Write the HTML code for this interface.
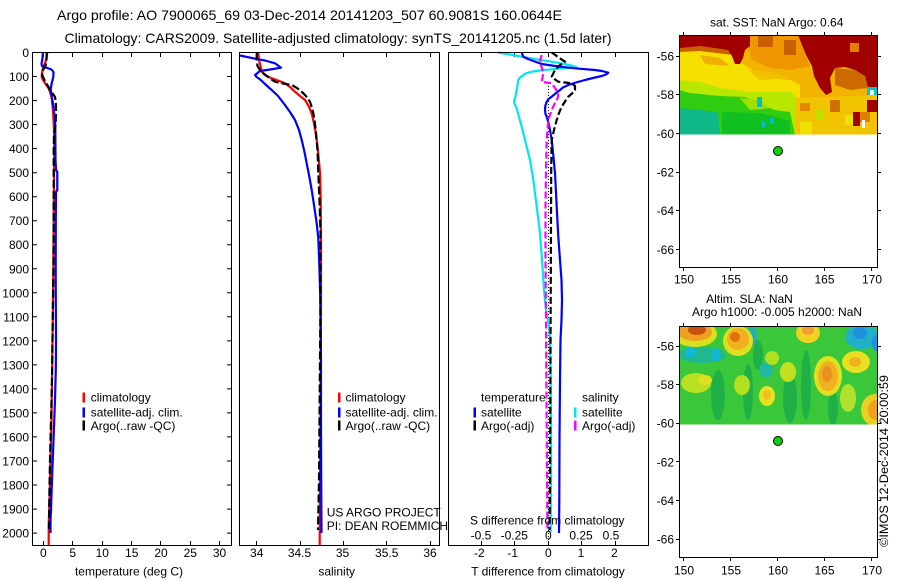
<!DOCTYPE html>
<html>
<head>
<meta charset="utf-8">
<style>
html,body{margin:0;padding:0;background:#fff;}
svg{display:block;}
text{font-family:"Liberation Sans",Arial,sans-serif;fill:#000;}
</style>
</head>
<body>
<svg width="900" height="580" viewBox="0 0 900 580" xmlns="http://www.w3.org/2000/svg">
<rect x="0" y="0" width="900" height="580" fill="#fff"/>

<!-- Titles -->
<text x="57" y="20" font-size="14" textLength="505" lengthAdjust="spacingAndGlyphs">Argo profile: AO 7900065_69 03-Dec-2014 20141203_507 60.9081S 160.0644E</text>
<text x="64.5" y="43" font-size="14" textLength="547" lengthAdjust="spacingAndGlyphs">Climatology: CARS2009. Satellite-adjusted climatology: synTS_20141205.nc (1.5d later)</text>

<!-- Depth labels -->
<g font-size="12" text-anchor="end">
<text x="29" y="57">0</text>
<text x="29" y="81">100</text>
<text x="29" y="105.1">200</text>
<text x="29" y="129.1">300</text>
<text x="29" y="153.1">400</text>
<text x="29" y="177.2">500</text>
<text x="29" y="201.2">600</text>
<text x="29" y="225.2">700</text>
<text x="29" y="249.2">800</text>
<text x="29" y="273.3">900</text>
<text x="29" y="297.3">1000</text>
<text x="29" y="321.3">1100</text>
<text x="29" y="345.4">1200</text>
<text x="29" y="369.4">1300</text>
<text x="29" y="393.4">1400</text>
<text x="29" y="417.4">1500</text>
<text x="29" y="441.4">1600</text>
<text x="29" y="465.5">1700</text>
<text x="29" y="489.5">1800</text>
<text x="29" y="513.6">1900</text>
<text x="29" y="537.6">2000</text>
</g>

<!-- Panel 1 ticks -->
<g stroke="#000" stroke-width="1" fill="none">
<path d="M32.5 52.5h4.5M32.5 76.5h4.5M32.5 100.6h4.5M32.5 124.6h4.5M32.5 148.6h4.5M32.5 172.7h4.5M32.5 196.7h4.5M32.5 220.7h4.5M32.5 244.7h4.5M32.5 268.8h4.5M32.5 292.8h4.5M32.5 316.8h4.5M32.5 340.9h4.5M32.5 364.9h4.5M32.5 388.9h4.5M32.5 412.9h4.5M32.5 436.9h4.5M32.5 461h4.5M32.5 485h4.5M32.5 509.1h4.5M32.5 533.1h4.5"/>
<path d="M231.5 52.5h-4.5M231.5 76.5h-4.5M231.5 100.6h-4.5M231.5 124.6h-4.5M231.5 148.6h-4.5M231.5 172.7h-4.5M231.5 196.7h-4.5M231.5 220.7h-4.5M231.5 244.7h-4.5M231.5 268.8h-4.5M231.5 292.8h-4.5M231.5 316.8h-4.5M231.5 340.9h-4.5M231.5 364.9h-4.5M231.5 388.9h-4.5M231.5 412.9h-4.5M231.5 436.9h-4.5M231.5 461h-4.5M231.5 485h-4.5M231.5 509.1h-4.5M231.5 533.1h-4.5"/>
<path d="M43.5 52.5v4.5M72.5 52.5v4.5M102.5 52.5v4.5M131.5 52.5v4.5M160.5 52.5v4.5M190.5 52.5v4.5M219.5 52.5v4.5"/>
<path d="M43.5 545.5v-4.5M72.5 545.5v-4.5M102.5 545.5v-4.5M131.5 545.5v-4.5M160.5 545.5v-4.5M190.5 545.5v-4.5M219.5 545.5v-4.5"/>
<!-- Panel 2 ticks -->
<path d="M256.5 52.5v4.5M300.5 52.5v4.5M343.5 52.5v4.5M386.5 52.5v4.5M430.5 52.5v4.5"/>
<path d="M256.5 545.5v-4.5M300.5 545.5v-4.5M343.5 545.5v-4.5M386.5 545.5v-4.5M430.5 545.5v-4.5"/>
<!-- Panel 3 ticks -->
<path d="M481.5 52.5v4.5M514.5 52.5v4.5M548.5 52.5v4.5M581.5 52.5v4.5M615.5 52.5v4.5"/>
<path d="M481.5 545.5v-4.5M514.5 545.5v-4.5M548.5 545.5v-4.5M581.5 545.5v-4.5M615.5 545.5v-4.5"/>
</g>

<!-- Panel 1 curves -->
<g fill="none" stroke-width="2.2" stroke-linejoin="round">
<polyline stroke="#ff0000" points="47.3,52.5 46.5,58 45,63 43,68 42,73 41.7,77 43,80 45,83 47,86 49,89 50,92 51.5,97 52,101 53,110 54,130 54.3,150 54,180 53.7,220 53.3,270 53,300 52.5,340 52,380 51.5,420 50.5,460 49.5,500 48.7,525 48.7,545"/>
<polyline stroke="#0000ff" points="43,52.5 42.5,58 41.5,64 42,66 46,67.5 51.5,69.5 53.5,72 53.3,77 52,82 51,87 50.7,90 51.5,95 52.3,100 53.5,106 54,112 55,118 55.3,130 55.5,160 56,170 57.3,172 57.3,190 56,192 55.8,220 55.7,268 55.8,300 56,340 55.8,370 55,400 53.5,440 52,480 51,510 50.5,520 50.5,533"/>
<polyline stroke="#000" stroke-dasharray="8 3" points="46.7,52.5 46.5,60 45.5,66 43,70 42,74 43,77 45.5,82 48,86 50,90 53,94 55,97 55.5,100 56,105 56,115 55.5,125 54,135 53.7,150 53.7,200 53.5,268 53,300 52.5,340 52,380 51,420 50,460 49.3,500 49,530"/>
</g>

<!-- Panel 2 curves -->
<g fill="none" stroke-width="2.2" stroke-linejoin="round">
<polyline stroke="#ff0000" points="258.3,52.5 259,60 260.5,66 261.7,71.7 265,75 271.7,78.3 278,80.5 285,83.3 290,87 295,91.7 300,96 305,100 309,106.7 311.5,113 313.3,120 315.2,130 316.7,140 318.5,156 320,173 320.7,200 321,240 321,300 320.8,360 320.5,420 320,480 319.7,520 319.7,545"/>
<polyline stroke="#0000ff" points="240,55.5 253.3,58.3 265,60.5 275,63.3 281,67.7 270,69.5 260,71 255,75 256.5,77 260,79.3 265,84 271.7,90 278,96 285,105 290,112 295,120 299,130 301.7,140 304.5,152 306.7,163.3 309,175 311.7,190 314,205 316.7,223.3 318.3,238.3 319.5,270 320.3,300 321,360 321,420 321.2,480 321.5,533"/>
<polyline stroke="#000" stroke-dasharray="8 3" points="256.7,52.5 256.7,60 257.5,66 260,70 263.3,73.3 268,77 275,81.7 283,83.5 291.7,85 297,88 301.7,91.7 306,96 310,101.7 312,108 313.3,113 314.8,122 316,133 317.5,150 318.3,173 319.5,200 320.5,233 320.5,300 320,360 319.5,420 319,480 318,530"/>
</g>

<!-- Panel 3 curves -->
<line x1="548.5" y1="86" x2="548.5" y2="545" stroke="#000" stroke-width="1" stroke-dasharray="1 2"/>
<g fill="none" stroke-width="2.2" stroke-linejoin="round">
<polyline stroke="#00e5ee" points="498,52.5 510,54.5 521.7,56.7 533,58.7 545,60.7 555,62.3 565,64 572,65.7 576.7,67.3 565,68.2 551.7,69.3 540,70.5 531.7,71.7 526,73.3 523.3,75 520,77.5 518.3,80 517.5,85 516.7,90 515.5,96 514,101.7 515,105 516.7,108.3 519,117 521.7,126.7 525,140 530,160 533.3,180 536.7,206.7 540,233.3 542,260 544,290 546,310 548,320 549.5,330 550.5,360 551,420 551,480 550.7,532"/>
<polyline stroke="#0000ff" points="521.7,52.5 523.3,56.7 528,59 533.3,61 541.7,64 555,66 565,67.2 575,68.3 585,69.2 595,70 602,71 608.3,72.7 606,74.5 601.7,76 593,78 585,80 576,82.5 568.3,85 563,87.5 560,90 555.5,93.5 551.7,96.7 548.5,99 546.7,101.7 545.3,106 545,110 545.5,114 546.7,116.7 548.5,123 550,130 551.7,140 553.5,157 555,173.3 556.7,206.7 558.3,236.7 560,260 561.5,280 562,300 561.5,320 560.5,340 560,380 559.5,440 559.3,500 559,533"/>
<polyline stroke="#000" stroke-dasharray="7 3" points="551.7,52.5 558,57 565,61.7 560,65 555,70 551.7,76.7 555,79.5 558.3,81.7 565,82.5 571.7,83.3 575,86 575,90 572,93.5 568.3,96.7 565,101.5 561.7,106.7 559,113 556.7,120 554,130 551.7,140 551.2,170 551,220 550.7,300 550.3,400 550,480 549.5,530"/>
<polyline stroke="#ff00ff" stroke-dasharray="7 3" points="541.7,55 540.5,59 540,63.3 542,68 543.3,73.3 542.5,78 541.7,81.7 546,82.5 551.7,83.3 555,88 558.3,93.3 558,97 556.7,100 554,105 551.7,110 550,115 548.3,120 547.5,130 546.7,140 546,170 545.5,206.7 545.5,260 546,320 546.5,400 547,470 547.5,532"/>
</g>

<!-- Panel frames -->
<g fill="none" stroke="#000" stroke-width="1">
<rect x="32.5" y="52.5" width="199" height="493"/>
<rect x="239.5" y="52.5" width="200" height="493"/>
<rect x="448.5" y="52.5" width="200" height="493"/>
</g>

<!-- Legends -->
<g font-size="12">
<rect x="82.5" y="392.5" width="2.5" height="10" fill="#ff0000"/>
<rect x="82.5" y="407.5" width="2.5" height="10" fill="#0000ff"/>
<rect x="82.5" y="420.5" width="2.5" height="10" fill="#000"/>
<text x="90.7" y="401.6">climatology</text>
<text x="90.7" y="416.6">satellite-adj. clim.</text>
<text x="90.7" y="430">Argo(..raw -QC)</text>

<rect x="338" y="392.5" width="2.5" height="10" fill="#ff0000"/>
<rect x="338" y="407.5" width="2.5" height="10" fill="#0000ff"/>
<rect x="338" y="420.5" width="2.5" height="10" fill="#000"/>
<text x="345.5" y="401.6">climatology</text>
<text x="345.5" y="416.6">satellite-adj. clim.</text>
<text x="345.5" y="430">Argo(..raw -QC)</text>

<text x="481" y="401.6">temperature</text>
<rect x="473.5" y="407.5" width="2.5" height="10" fill="#0000ff"/>
<rect x="473.5" y="420.5" width="2.5" height="10" fill="#000"/>
<text x="481" y="416.6">satellite</text>
<text x="481" y="430">Argo(-adj)</text>
<text x="582" y="401.6">salinity</text>
<rect x="574" y="407.5" width="2.5" height="10" fill="#00e5ee"/>
<rect x="574" y="420.5" width="2.5" height="10" fill="#ff00ff"/>
<text x="582" y="416.6">satellite</text>
<text x="582" y="430">Argo(-adj)</text>

<text x="326.7" y="516.6">US ARGO PROJECT</text>
<text x="326.7" y="530">PI: DEAN ROEMMICH</text>

<text x="547.3" y="524.5" text-anchor="middle">S difference from climatology</text>
<g text-anchor="middle">
<text x="481" y="539.5">-0.5</text>
<text x="514.3" y="539.5">-0.25</text>
<text x="548.3" y="539.5">0</text>
<text x="581" y="539.5">0.25</text>
<text x="611" y="539.5">0.5</text>
</g>
</g>

<!-- X tick labels -->
<g font-size="12" text-anchor="middle">
<text x="43.3" y="557">0</text>
<text x="72.7" y="557">5</text>
<text x="102.3" y="557">10</text>
<text x="131.7" y="557">15</text>
<text x="161" y="557">20</text>
<text x="190.3" y="557">25</text>
<text x="219.5" y="557">30</text>
<text x="256.7" y="557">34</text>
<text x="299.5" y="557">34.5</text>
<text x="342.5" y="557">35</text>
<text x="386.7" y="557">35.5</text>
<text x="430" y="557">36</text>
<text x="479.3" y="557">-2</text>
<text x="512.7" y="557">-1</text>
<text x="548.3" y="557">0</text>
<text x="581" y="557">1</text>
<text x="614.3" y="557">2</text>
<text x="129" y="575.5">temperature (deg C)</text>
<text x="336.7" y="575.5">salinity</text>
<text x="548" y="575.5">T difference from climatology</text>
</g>

<!-- ===== Map 1 (SST) ===== -->
<defs>
<clipPath id="c1"><rect x="679.5" y="35.5" width="198" height="99"/></clipPath>
<clipPath id="c2"><rect x="679.5" y="326.5" width="198" height="98"/></clipPath>
</defs>
<g clip-path="url(#c1)">
<rect x="679" y="35" width="199" height="100" fill="#f2b400"/>
<path d="M679,48 L725,50 L740,62 L752,70 L765,78 L790,80 L800,85 L800,100 L750,100 L679,92 Z" fill="#f6e000"/>
<path d="M700,55 L720,58 L730,66 L705,64 Z" fill="#f0b000"/>
<path d="M748,70 L770,72 L790,78 L760,80 Z" fill="#f2c200"/>
<path d="M679,80 L700,82 L720,88 L750,92 L790,92 L800,100 L795,135 L679,135 Z" fill="#b8e800"/>
<path d="M679,90 L690,93 L720,96 L745,97 L760,105 L775,110 L790,112 L795,135 L679,135 Z" fill="#30cc10"/>
<path d="M740,98 L760,100 L770,108 L750,110 Z" fill="#a0e000"/>
<path d="M679,108 L700,110 L718,112 L720,135 L679,135 Z" fill="#10b888"/>
<path d="M722,112 L760,113 L790,121 L790,135 L722,135 Z" fill="#10c020"/>
<rect x="757" y="97" width="5" height="10" fill="#00c0d0"/>
<rect x="770" y="118" width="4" height="6" fill="#00c0d0"/>
<rect x="762" y="122" width="3" height="5" fill="#00c0d0"/>
<path d="M795,98 L877,95 L877,135 L795,135 Z" fill="#f2c400"/>
<rect x="800" y="103" width="10" height="8" fill="#e08800"/>
<rect x="815" y="110" width="8" height="10" fill="#c0e000"/>
<rect x="830" y="100" width="10" height="12" fill="#d07000"/>
<rect x="845" y="115" width="10" height="10" fill="#f0e000"/>
<rect x="800" y="122" width="12" height="12" fill="#f0e000"/>
<rect x="860" y="112" width="10" height="10" fill="#e08000"/>
<path d="M745,35 L800,35 L805,55 L810,66 L790,70 L770,68 L752,60 Z" fill="#f09600"/>
<rect x="758" y="35" width="15" height="12" fill="#c86000"/>
<rect x="784" y="40" width="12" height="15" fill="#c86000"/>
<path d="M679,45 L700,44 L728,48 L735,55 L724,54 L700,51 L679,52 Z" fill="#c86000"/>
<path d="M679,35 L750,35 L750,46 L745,50 L743,58 L740,64 L735,64 L732,56 L728,50 L715,48 L700,46 L690,47 L679,48 Z" fill="#a00000"/>
<path d="M798,35 L877,35 L877,90 L868,88 L865,76 L855,70 L845,67 L835,68 L830,78 L832,92 L826,95 L820,88 L814,76 L812,66 L806,55 L802,45 Z" fill="#a00000"/>
<path d="M835,68 L855,70 L865,76 L868,88 L850,90 L835,85 Z" fill="#cc6a00"/>
<rect x="850" y="43" width="9" height="9" fill="#e08000"/>
<rect x="867" y="87" width="10" height="8" fill="#00c8c8"/>
<rect x="870" y="90" width="4" height="5" fill="#ffffff"/>
<rect x="867" y="100" width="10" height="12" fill="#a00000"/>
<rect x="853" y="112" width="7" height="14" fill="#a00000"/>
<rect x="862" y="120" width="3" height="8" fill="#ffffff"/>
</g>
<g fill="none" stroke="#000" stroke-width="1">
<rect x="679.5" y="35.5" width="198" height="232"/>
<path d="M683.5 35v-3M730.5 35v-3M777.5 35v-3M824.5 35v-3M871.5 35v-3"/>
<path d="M683.5 268v3M730.5 268v3M777.5 268v3M824.5 268v3M871.5 268v3"/>
<path d="M679 56.5h-3M679 94.5h-3M679 133.5h-3M679 172.5h-3M679 210.5h-3M679 249.5h-3"/>
<path d="M878 56.5h3M878 94.5h3M878 133.5h3M878 172.5h3M878 210.5h3M878 249.5h3"/>
</g>
<circle cx="778" cy="151" r="4.5" fill="#10d010" stroke="#000" stroke-width="1"/>
<g font-size="12">
<text x="776.7" y="26.5" text-anchor="middle">sat. SST: NaN Argo: 0.64</text>
<g text-anchor="end">
<text x="674" y="60.5">-56</text>
<text x="674" y="99">-58</text>
<text x="674" y="138">-60</text>
<text x="674" y="176.5">-62</text>
<text x="674" y="215">-64</text>
<text x="674" y="254">-66</text>
</g>
<g text-anchor="middle">
<text x="684" y="283.5">150</text>
<text x="731" y="283.5">155</text>
<text x="778" y="283.5">160</text>
<text x="824.5" y="283.5">165</text>
<text x="872" y="283.5">170</text>
</g>
</g>

<!-- ===== Map 2 (SLA) ===== -->
<g clip-path="url(#c2)">
<rect x="679" y="326" width="199" height="99" fill="#3ac83a"/>
<ellipse cx="718" cy="395" rx="7" ry="25" fill="#20b048"/>
<ellipse cx="748" cy="392" rx="5" ry="28" fill="#20b048"/>
<ellipse cx="790" cy="398" rx="7" ry="25" fill="#20b048"/>
<ellipse cx="806" cy="385" rx="5" ry="35" fill="#20b048"/>
<ellipse cx="833" cy="408" rx="5" ry="18" fill="#20b048"/>
<ellipse cx="758" cy="355" rx="5" ry="15" fill="#20b048"/>
<ellipse cx="702" cy="355" rx="24" ry="8" fill="#20b890"/>
<ellipse cx="690" cy="352" rx="5" ry="6" fill="#10b8d8"/>
<ellipse cx="716" cy="355" rx="4" ry="7" fill="#10b8d8"/>
<ellipse cx="752" cy="336" rx="5" ry="10" fill="#20b0b0"/>
<ellipse cx="766" cy="370" rx="7" ry="8" fill="#20b8a0"/>
<ellipse cx="862" cy="337" rx="17" ry="12" fill="#20b0c8"/>
<ellipse cx="860" cy="333" rx="7" ry="6" fill="#2090e0"/>
<ellipse cx="876" cy="343" rx="4" ry="8" fill="#2090e0"/>
<ellipse cx="695" cy="334" rx="22" ry="13" fill="#d8e020"/>
<ellipse cx="695" cy="332" rx="17" ry="9" fill="#f0a020"/>
<ellipse cx="697" cy="330" rx="9" ry="5" fill="#c85010"/>
<ellipse cx="738" cy="341" rx="15" ry="15" fill="#e0e020"/>
<ellipse cx="738" cy="339" rx="11" ry="11" fill="#f0b020"/>
<ellipse cx="735" cy="337" rx="5" ry="5" fill="#e07010"/>
<ellipse cx="808" cy="333" rx="12" ry="10" fill="#f0d020"/>
<ellipse cx="808" cy="330" rx="6" ry="5" fill="#f0a030"/>
<ellipse cx="828" cy="376" rx="14" ry="20" fill="#e0e020"/>
<ellipse cx="828" cy="376" rx="10" ry="15" fill="#f0b020"/>
<ellipse cx="827" cy="374" rx="5" ry="8" fill="#e89020"/>
<ellipse cx="856" cy="362" rx="14" ry="11" fill="#e8e020"/>
<ellipse cx="855" cy="362" rx="6" ry="5" fill="#f0b020"/>
<ellipse cx="875" cy="410" rx="14" ry="16" fill="#e8d020"/>
<ellipse cx="876" cy="410" rx="8" ry="10" fill="#f0a020"/>
<ellipse cx="767" cy="396" rx="8" ry="10" fill="#e8e020"/>
<ellipse cx="767" cy="395" rx="4" ry="5" fill="#f0c020"/>
<ellipse cx="696" cy="383" rx="15" ry="10" fill="#b8e020"/>
<ellipse cx="705" cy="380" rx="7" ry="5" fill="#e0e020"/>
<ellipse cx="742" cy="385" rx="8" ry="10" fill="#b0e020"/>
<ellipse cx="788" cy="372" rx="8" ry="10" fill="#c0e020"/>
<ellipse cx="848" cy="398" rx="8" ry="14" fill="#b0e030"/>
<ellipse cx="772" cy="358" rx="7" ry="7" fill="#b0e020"/>
</g>
<g fill="none" stroke="#000" stroke-width="1">
<rect x="679.5" y="326.5" width="198" height="231"/>
<path d="M683.5 326v-3M730.5 326v-3M777.5 326v-3M824.5 326v-3M871.5 326v-3"/>
<path d="M683.5 558v3M730.5 558v3M777.5 558v3M824.5 558v3M871.5 558v3"/>
<path d="M679 346.5h-3M679 384.5h-3M679 423.5h-3M679 461.5h-3M679 500.5h-3M679 539.5h-3"/>
<path d="M878 346.5h3M878 384.5h3M878 423.5h3M878 461.5h3M878 500.5h3M878 539.5h3"/>
</g>
<circle cx="778" cy="441" r="4.5" fill="#10d010" stroke="#000" stroke-width="1"/>
<g font-size="12">
<text x="749.5" y="303" text-anchor="middle">Altim. SLA: NaN</text>
<text x="777" y="316" text-anchor="middle">Argo h1000: -0.005 h2000: NaN</text>
<g text-anchor="end">
<text x="674" y="350.5">-56</text>
<text x="674" y="389">-58</text>
<text x="674" y="427.7">-60</text>
<text x="674" y="466.3">-62</text>
<text x="674" y="505">-64</text>
<text x="674" y="543.5">-66</text>
</g>
<g text-anchor="middle">
<text x="684" y="574.5">150</text>
<text x="731" y="574.5">155</text>
<text x="778" y="574.5">160</text>
<text x="824.5" y="574.5">165</text>
<text x="872" y="574.5">170</text>
</g>
<text transform="translate(888,461) rotate(-90)" text-anchor="middle" textLength="172" lengthAdjust="spacingAndGlyphs">©IMOS 12-Dec-2014 20:00:59</text>
</g>
</svg>
</body>
</html>
